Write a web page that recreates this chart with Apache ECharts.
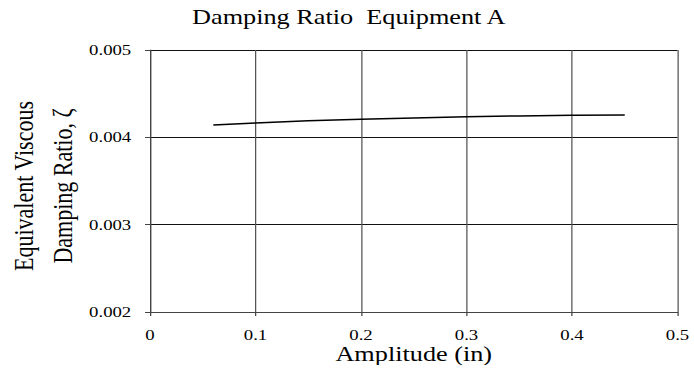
<!DOCTYPE html>
<html><head><meta charset="utf-8">
<script src="https://cdn.jsdelivr.net/npm/echarts@6/dist/echarts.min.js"></script>
<style>
html,body{margin:0;padding:0;background:#fff;overflow:hidden;width:694px;height:368px}
#c{position:absolute;left:0;top:0;width:555px;height:368px;transform:scaleX(1.25);transform-origin:0 0}
</style>
</head><body><div id="c"></div>
<script>
const amplitude = [0.06, 0.10, 0.15, 0.20, 0.25, 0.30, 0.35, 0.40, 0.45];
const damping = [0.00414, 0.004165, 0.00419, 0.004207, 0.004222, 0.004237, 0.004245, 0.004252, 0.004257];
const titleText = 'Damping Ratio  Equipment A';
const xTitle = 'Amplitude (in)';
const yTitle = 'Equivalent Viscous\nDamping Ratio, ζ';

const chart = echarts.init(document.getElementById('c'), null, {renderer: 'svg', width: 555, height: 368});
const F = 'Liberation Serif, Times New Roman, serif';
chart.setOption({
  animation: false,
  title: {text: titleText, left: 279, top: 6, padding: 0, textAlign: 'center',
    textStyle: {fontFamily: F, fontSize: 21, fontWeight: 'normal', color: '#000'}},
  grid: {left: 120, right: 13, top: 50, bottom: 56, containLabel: false, outerBoundsMode: 'none'},
  xAxis: {type: 'value', min: 0, max: 0.5, interval: 0.1,
    name: xTitle, nameLocation: 'middle', nameGap: 31, nameMoveOverlap: false,
    nameTextStyle: {fontFamily: F, fontSize: 21, color: '#000', lineHeight: 21},
    axisLine: {lineStyle: {color: '#444', width: 1}},
    axisTick: {inside: false, length: 4, lineStyle: {color: '#444'}},
    axisLabel: {fontFamily: F, fontSize: 15, color: '#000', margin: 16, lineHeight: 15,
      formatter: v => String(Math.round(v * 10) / 10)},
    splitLine: {show: true, lineStyle: {color: '#555', width: 1}}},
  yAxis: {type: 'value', min: 0.002, max: 0.005, interval: 0.001,
    axisLine: {show: true, lineStyle: {color: '#444', width: 1}},
    axisTick: {show: true, inside: false, length: 4, lineStyle: {color: '#444'}},
    axisLabel: {fontFamily: F, fontSize: 15, color: '#000', margin: 15,
      formatter: v => v.toFixed(3)},
    splitLine: {show: true, lineStyle: {color: '#111', width: 1}}},
  graphic: [{type: 'text', x: 34.6, y: 186, rotation: Math.PI / 2,
    style: {text: yTitle, fontFamily: F, fontSize: 22, fill: '#000', align: 'center',
      verticalAlign: 'middle', lineHeight: 31}}],
  series: [{type: 'line', data: amplitude.map((a, i) => [a, damping[i]]),
    symbol: 'none', smooth: false, lineStyle: {color: '#000', width: 1.5}}]
});
</script></body></html>
